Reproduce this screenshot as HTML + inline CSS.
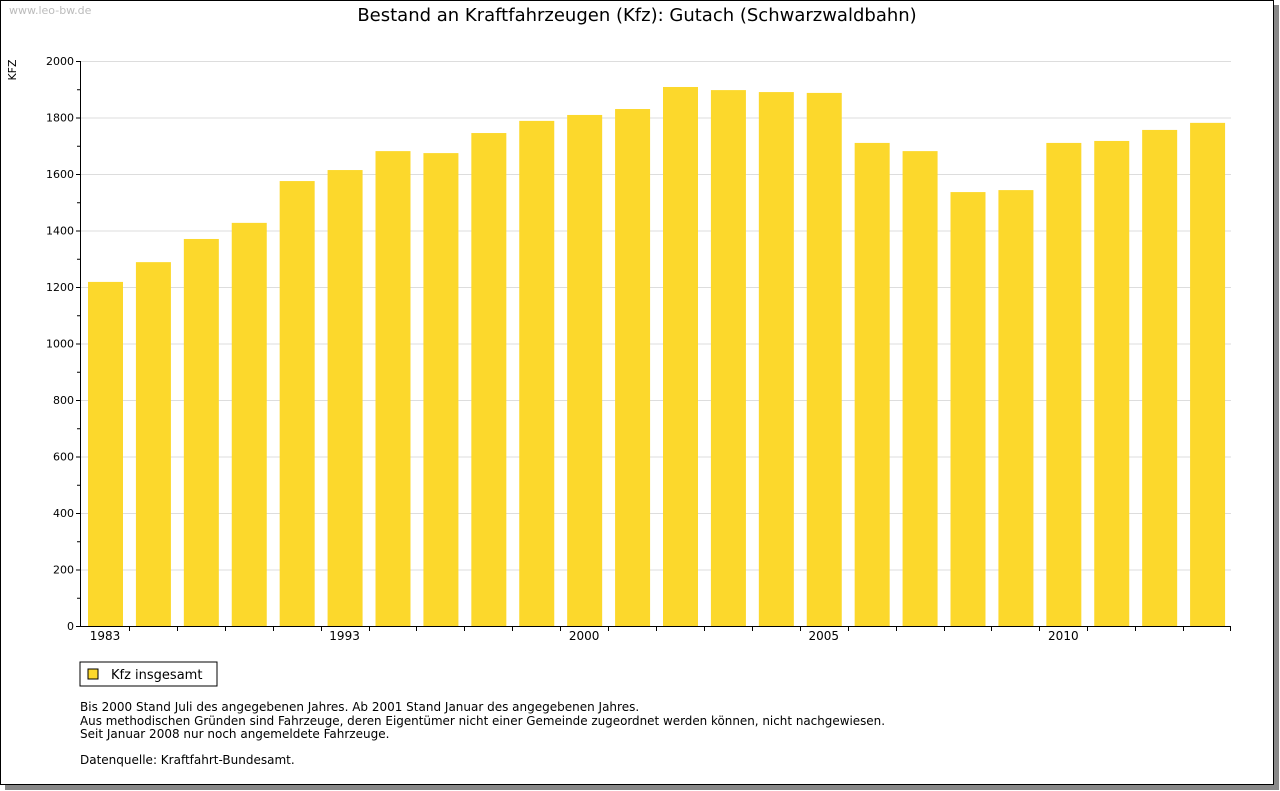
<!DOCTYPE html>
<html><head><meta charset="utf-8"><style>
body{margin:0;width:1280px;height:791px;background:#fff;overflow:hidden;font-family:"DejaVu Sans","Liberation Sans",sans-serif}
#frame{position:absolute;left:0;top:0;width:1272px;height:783px;border:1px solid #000;box-shadow:5px 5px 0 #888;background:#fff}
</style></head><body>
<div id="frame">
<svg id="chart" width="1274" height="785" style="position:absolute;left:-1px;top:-1px" font-family="DejaVu Sans, Liberation Sans, sans-serif">
<text x="9" y="14" font-size="11" fill="#bbb">www.leo-bw.de</text>
<text x="637" y="21" font-size="18" text-anchor="middle" fill="#000">Bestand an Kraftfahrzeugen (Kfz): Gutach (Schwarzwaldbahn)</text>
<text transform="translate(16,70) rotate(-90)" font-size="11" text-anchor="middle">KFZ</text>
<g id="grid"></g><g id="bars"></g><g id="axes"></g>
<rect x="80" y="662" width="137" height="24" fill="#fff" stroke="#000"/>
<rect x="88" y="669" width="10" height="10" fill="#fcd82c" stroke="#000"/>
<text x="111" y="679" font-size="13">Kfz insgesamt</text>
<g font-size="12" textLength="0">
<text x="80" y="711">Bis 2000 Stand Juli des angegebenen Jahres. Ab 2001 Stand Januar des angegebenen Jahres.</text>
<text x="80" y="725" textLength="805" lengthAdjust="spacingAndGlyphs">Aus methodischen Gründen sind Fahrzeuge, deren Eigentümer nicht einer Gemeinde zugeordnet werden können, nicht nachgewiesen.</text>
<text x="80" y="738">Seit Januar 2008 nur noch angemeldete Fahrzeuge.</text>
<text x="80" y="764">Datenquelle: Kraftfahrt-Bundesamt.</text>
</g>
</svg></div>
<script>
const categories=["1983","1985","1987","1989","1991","1993","1995","1996","1997","1999","2000","2001","2002","2003","2004","2005","2006","2007","2008","2009","2010","2011","2012","2013"];
const shownLabels=["1983","","","","","1993","","","","","2000","","","","","2005","","","","","2010","","",""];
const values=[1218,1288,1370,1427,1575,1614,1681,1674,1745,1788,1809,1830,1908,1897,1890,1887,1710,1681,1536,1543,1710,1717,1756,1781];
const yTicks=[0,200,400,600,800,1000,1200,1400,1600,1800,2000];
const NS="http://www.w3.org/2000/svg";
const X0=81,X1=1231,Y0=626,Y1=61,YMAX=2000;
const slot=(X1-X0)/categories.length;
const y=v=>Y0-(v/YMAX)*(Y0-Y1);
const x=i=>X0+i*slot;
function mk(t,a,p){const e=document.createElementNS(NS,t);for(const k in a)e.setAttribute(k,a[k]);p.appendChild(e);return e;}
const grid=document.getElementById('grid'),bars=document.getElementById('bars'),axes=document.getElementById('axes');
yTicks.forEach(v=>{
 const l=mk('line',{x1:X0,x2:X1,y1:y(v)+.5,y2:y(v)+.5,stroke:'#ddd'},grid);
 
 
 const t=mk('text',{x:X0-7,y:y(v)+4,'font-size':11,'text-anchor':'end'},axes);t.textContent=v;
 
 
 mk('line',{x1:X0-5,x2:X0,y1:y(v)+.5,y2:y(v)+.5,stroke:'#000'},axes);
 if(v<YMAX)mk('line',{x1:X0-4,x2:X0,y1:y(v+100)+.5,y2:y(v+100)+.5,stroke:'#000'},axes);
});
values.forEach((v,i)=>{
 const r=mk('rect',{x:x(i)+7,y:y(v),width:35,height:Y0-y(v),fill:'#fcd82c'},bars);
 
 
 if(i>0)mk('line',{x1:Math.round(x(i))+.5,x2:Math.round(x(i))+.5,y1:Y0,y2:Y0+5,stroke:'#000'},axes);
 if(shownLabels[i]){const t=mk('text',{x:x(i)+24,y:Y0+14,'font-size':12,'text-anchor':'middle'},axes);t.textContent=shownLabels[i];
 
 }
});
mk('line',{x1:X1-.5,x2:X1-.5,y1:Y0,y2:Y0+5,stroke:'#000'},axes);
const xa=mk('line',{x1:X0-.5,x2:X1,y1:Y0+.5,y2:Y0+.5,stroke:'#000'},axes);


const ya=mk('line',{x1:X0-.5,x2:X0-.5,y1:Y1,y2:Y0+1,stroke:'#000'},axes);


</script>
</body></html>
